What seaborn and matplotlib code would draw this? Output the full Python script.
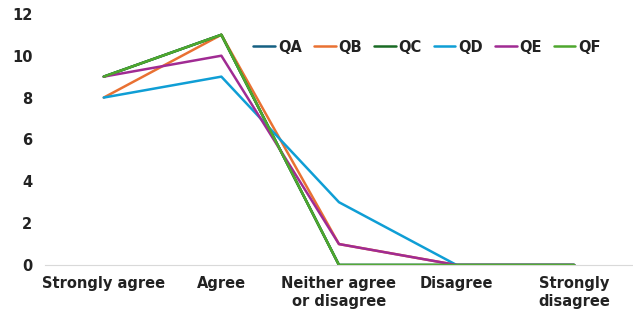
import matplotlib
matplotlib.use("Agg")
import matplotlib.pyplot as plt
import seaborn as sns
import pandas as pd

categories = ["Strongly agree", "Agree", "Neither agree\nor disagree", "Disagree", "Strongly\ndisagree"]
qa = [9, 11, 0, 0, 0]
qb = [8, 11, 1, 0, 0]
qc = [9, 11, 0, 0, 0]
qd = [8, 9, 3, 0, 0]
qe = [9, 10, 1, 0, 0]
qf = [9, 11, 0, 0, 0]

series = {"QA": qa, "QB": qb, "QC": qc, "QD": qd, "QE": qe, "QF": qf}
colors = {"QA": "#156082", "QB": "#E97132", "QC": "#196B24",
          "QD": "#0F9ED5", "QE": "#A02B93", "QF": "#4EA72E"}

rows = []
for name, vals in series.items():
    for i, v in enumerate(vals):
        rows.append({"Response": i, "Count": v, "Question": name})
df = pd.DataFrame(rows)

sns.set_theme(style="white")
plt.rcParams["font.family"] = ["DejaVu Sans"]
plt.rcParams["font.weight"] = "bold"

fig = plt.figure(figsize=(6.33, 3.22), dpi=100)
ax = fig.add_axes([0.071, 0.177, 0.929, 0.78])

sns.lineplot(data=df, x="Response", y="Count", hue="Question", palette=colors,
             linewidth=1.8, ax=ax, legend=True)

ax.set_xlim(-0.5, 4.5)
ax.set_ylim(0, 12)
ax.set_yticks(range(0, 13, 2))
ax.set_xticks(range(len(categories)))
ax.set_xticklabels(categories, fontsize=10.5, fontweight="bold", color="#222222")
ax.tick_params(axis="y", labelsize=10.5, colors="#222222", length=0, pad=9)
ax.tick_params(axis="x", length=0, pad=8)
for lbl in ax.get_yticklabels():
    lbl.set_fontweight("bold")
ax.set_xlabel("")
ax.set_ylabel("")

for side in ["top", "right", "left"]:
    ax.spines[side].set_visible(False)
ax.spines["bottom"].set_color("#D9D9D9")
ax.spines["bottom"].set_linewidth(0.8)

leg = ax.legend(loc="upper center", bbox_to_anchor=(0.65, 0.95), ncol=6,
                frameon=False, handlelength=1.5, handletextpad=0.2,
                columnspacing=0.8, prop={"size": 10.5, "weight": "bold"})
for t in leg.get_texts():
    t.set_color("#222222")

fig.savefig("out.png", dpi=100)
